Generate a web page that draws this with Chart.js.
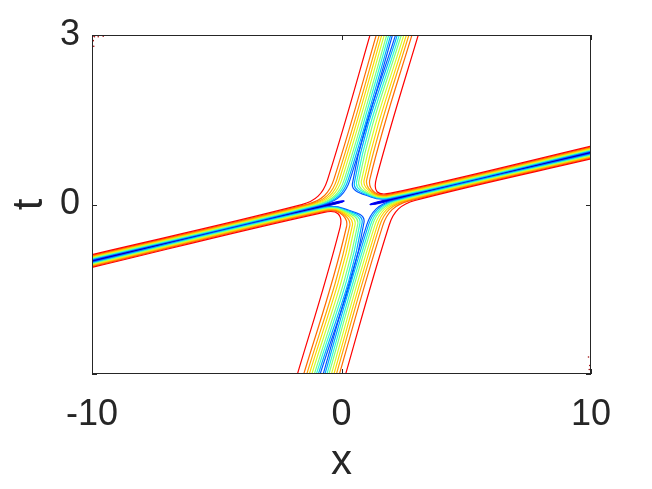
<!DOCTYPE html>
<html>
<head>
<meta charset="utf-8">
<script src="https://cdn.jsdelivr.net/npm/chart.js@4.4.1/dist/chart.umd.min.js"></script>
<style>
  html, body { margin: 0; padding: 0; background: #fff; }
</style>
</head>
<body>
<canvas id="contourChart" width="652" height="489"></canvas>
<script>
// axis ticks
const xTicks = [-10, 0, 10];
const tTicks = [-3, 0, 3];
const tTickLabels = ['', '0', '3'];

// slow soliton (steep band): centre x read at two times  [t, x]
const slowBelow = [[-3, -0.8], [0, 1.18]];
const slowAbove = [[0, 0.12], [3, 2.11]];
// fast soliton (flat band): centre t read at two x  [x, t]
const fastLeft = [[-10, -1.0], [0, 0.05]];
const fastRight = [[1.15, 0.0], [10, 0.92]];
// x where the two halves of the fast band end at the collision
const fastTips = [0.1, 1.15];

// contour levels, outermost first
const levelColors = ['#ff0000', '#ff6a00', '#ffa500', '#ffd700', '#d4ff2a', '#7fff7f',
                     '#2affd4', '#00aaff', '#0055ff', '#0000ff', '#00008b'];
// half width of each level across the slow band (x units), it stops at level 9
const slowHalfWidth = [0.97, 0.72, 0.6, 0.5, 0.4, 0.3, 0.22, 0.14, 0.07];
// half width of each level across the fast band (t units)
const fastHalfWidth = [0.115, 0.1, 0.088, 0.078, 0.067, 0.056, 0.046, 0.035, 0.025, 0.016, 0.008];

// stray specks in two corners
const noiseX = [-9.96, -9.9, -9.75, -9.95, -9.93, -9.55, 9.9, 9.93, 9.95];
const noiseT = [2.98, 2.97, 2.97, 2.9, 2.8, 2.98, -2.7, -2.92, -2.85];

// straight line through two read points: v = a + b*u
function lineOf(p) {
    const b = (p[1][1] - p[0][1]) / (p[1][0] - p[0][0]);
    return { a: p[0][1] - b * p[0][0], b: b };
}
const sBelow = lineOf(slowBelow), sAbove = lineOf(slowAbove);
const fLeft = lineOf(fastLeft), fRight = lineOf(fastRight);

// one bent contour: slow side arm (going up or down) joined to a fast side arm (going left or right)
// clampX keeps the bend on its own side of the collision
function corner(k, s, sSide, tDir, f, fSide, xDir, clampX) {
    const sa = s.a + sSide * slowHalfWidth[k], fa = f.a + fSide * fastHalfWidth[k];
    let xc = (sa + s.b * fa) / (1 - s.b * f.b);
    if (clampX !== undefined) xc = xDir > 0 ? Math.max(xc, clampX) : Math.min(xc, clampX);
    const tc = fa + f.b * xc;
    const slowAt = t => ({ x: sa + s.b * t, y: t });
    const fastAt = x => ({ x: x, y: fa + f.b * x });
    const n1 = slowAt(tc + tDir * 0.35), n2 = fastAt(xc + xDir * 0.8);
    return [
        slowAt(tDir * 3.4),
        n1,
        { x: 0.25 * n1.x + 0.5 * xc + 0.25 * n2.x, y: 0.25 * n1.y + 0.5 * tc + 0.25 * n2.y },
        n2,
        fastAt(xDir * 10.6)
    ];
}

// deepest levels only live in the fast band: a strip closed near the collision
function strip(k, f, xTip, xDir) {
    const h = fastHalfWidth[k];
    const at = (x, side) => ({ x: x, y: f.a + side * h + f.b * x });
    return [at(xDir * 10.6, 1), at(xTip + xDir * 0.3, 1), at(xTip, 0), at(xTip + xDir * 0.3, -1), at(xDir * 10.6, -1)];
}

const datasets = [];
levelColors.forEach((c, k) => {
    let parts;
    if (k < slowHalfWidth.length) {
        parts = [
            corner(k, sAbove, -1, 1, fLeft, 1, -1),
            corner(k, sAbove, 1, 1, fRight, 1, 1, fastTips[1]),
            corner(k, sBelow, -1, -1, fLeft, -1, -1, fastTips[0]),
            corner(k, sBelow, 1, -1, fRight, -1, 1)
        ];
    } else {
        parts = [strip(k, fLeft, fastTips[0], -1), strip(k, fRight, fastTips[1], 1)];
    }
    parts.forEach(p => datasets.push({
        data: p,
        showLine: true,
        borderColor: c,
        borderWidth: 1.2,
        pointRadius: 0,
        tension: 0.4,
        fill: false
    }));
});
datasets.push({
    data: noiseX.map((x, i) => ({ x: x, y: noiseT[i] })),
    pointRadius: 0.8,
    borderWidth: 0,
    backgroundColor: '#a01010'
});

// box and inward tick marks
const frame = {
    id: 'frame',
    afterDatasetsDraw(chart) {
        const { ctx, chartArea: a, scales: { x, y } } = chart;
        ctx.save();
        ctx.strokeStyle = '#262626';
        ctx.lineWidth = 1;
        ctx.strokeRect(a.left + 0.5, a.top + 0.5, a.right - a.left - 1, a.bottom - a.top - 1);
        ctx.beginPath();
        xTicks.forEach(v => {
            const px = Math.round(x.getPixelForValue(v)) + 0.5;
            ctx.moveTo(px, a.bottom); ctx.lineTo(px, a.bottom - 5);
            ctx.moveTo(px, a.top); ctx.lineTo(px, a.top + 5);
        });
        tTicks.forEach(v => {
            const py = Math.round(y.getPixelForValue(v)) + 0.5;
            ctx.moveTo(a.left, py); ctx.lineTo(a.left + 5, py);
            ctx.moveTo(a.right, py); ctx.lineTo(a.right - 5, py);
        });
        ctx.stroke();
        ctx.restore();
    }
};

const fontFamily = '"Liberation Sans", Arial, sans-serif';
new Chart(document.getElementById('contourChart'), {
    type: 'scatter',
    data: { datasets: datasets },
    options: {
        responsive: false,
        animation: false,
        layout: { padding: { top: 35, right: 61, left: 0, bottom: 0 } },
        plugins: { legend: { display: false }, tooltip: { enabled: false } },
        scales: {
            x: {
                type: 'linear', min: -10, max: 10,
                afterBuildTicks: s => { s.ticks = xTicks.map(v => ({ value: v })); },
                afterFit: s => { s.height = 115; },
                grid: { display: false, drawTicks: false },
                border: { display: false },
                ticks: { color: '#262626', padding: 19, maxRotation: 0, font: { family: fontFamily, size: 36 } },
                title: { display: true, text: 'x', color: '#262626', padding: { top: 0, bottom: 1 },
                         font: { family: fontFamily, size: 42 } }
            },
            y: {
                type: 'linear', min: -3, max: 3,
                afterBuildTicks: s => { s.ticks = tTicks.map(v => ({ value: v })); },
                afterFit: s => { s.width = 92; },
                grid: { display: false, drawTicks: false },
                border: { display: false },
                ticks: { color: '#262626', padding: 12, font: { family: fontFamily, size: 36 },
                         callback: (v, i) => tTickLabels[i] },
                title: { display: true, text: 't', color: '#262626', padding: { top: 5, bottom: 0 },
                         font: { family: fontFamily, size: 42 } }
            }
        }
    },
    plugins: [frame]
});
</script>
</body>
</html>
